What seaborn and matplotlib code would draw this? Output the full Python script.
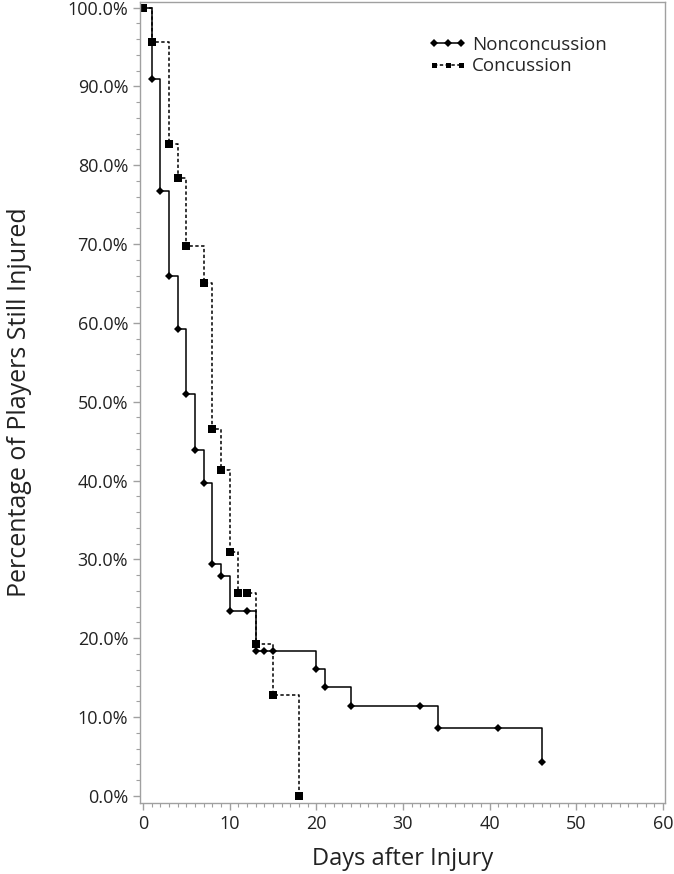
import matplotlib
matplotlib.use("Agg")
import matplotlib.pyplot as plt
import seaborn as sns
import pandas as pd
from matplotlib.ticker import MultipleLocator, FuncFormatter

# ---- data ----
non_days = [0, 1, 2, 3, 4, 5, 6, 7, 8, 9, 10, 12, 13, 14, 15, 20, 21, 24, 32, 34, 41, 46]
non_pct = [100.0, 90.9, 76.7, 66.0, 59.2, 51.0, 43.9, 39.7, 29.4, 27.9, 23.5, 23.5,
           18.4, 18.4, 18.4, 16.1, 13.8, 11.4, 11.4, 8.6, 8.6, 4.3]
con_days = [0, 1, 3, 4, 5, 7, 8, 9, 10, 11, 12, 13, 15, 18]
con_pct = [100.0, 95.6, 82.7, 78.4, 69.7, 65.0, 46.5, 41.3, 31.0, 25.8, 25.8, 19.3, 12.8, 0.0]
groups = ["Nonconcussion", "Concussion"]
x_ticks = [0, 10, 20, 30, 40, 50, 60]
y_ticks = [0, 10, 20, 30, 40, 50, 60, 70, 80, 90, 100]

df = pd.concat([
    pd.DataFrame({"day": non_days, "pct": non_pct, "group": groups[0]}),
    pd.DataFrame({"day": con_days, "pct": con_pct, "group": groups[1]}),
], ignore_index=True)

sns.set_theme(style="white")
plt.rcParams["font.family"] = ["Open Sans", "DejaVu Sans"]

fig = plt.figure(figsize=(6.74, 8.74), dpi=100)
ax = fig.add_axes([140 / 674, 1 - 803 / 874, 525 / 674, 801 / 874])

sns.lineplot(
    data=df, x="day", y="pct", hue="group", style="group",
    hue_order=groups, style_order=groups,
    palette={groups[0]: "black", groups[1]: "black"},
    markers={groups[0]: "D", groups[1]: "s"},
    dashes={groups[0]: "", groups[1]: (2.2, 1.6)},
    markersize=5, markeredgewidth=0, linewidth=1.1,
    drawstyle="steps-post", estimator=None, sort=False, ax=ax,
)
for ln in ax.lines:
    if ln.get_marker() == "D":
        ln.set_markersize(4.2)
    elif ln.get_marker() == "s":
        ln.set_markersize(5.2)

ax.set_xlim(-0.33, 60.25)
ax.set_ylim(-0.9, 100.7)
ax.set_xticks(x_ticks)
ax.set_yticks(y_ticks)
ax.xaxis.set_minor_locator(MultipleLocator(1))
ax.yaxis.set_minor_locator(MultipleLocator(2))
ax.yaxis.set_major_formatter(FuncFormatter(lambda v, p: f"{v:.1f}%"))

gray = "#a0a0a0"
for s in ax.spines.values():
    s.set_color(gray)
    s.set_linewidth(1.0)
ax.tick_params(which="both", direction="out", color=gray, labelsize=13, labelcolor="#222222")
ax.tick_params(which="major", length=5, width=1)
ax.tick_params(which="minor", length=3, width=0.8)
ax.tick_params(axis="both", which="both", bottom=True, left=True)

ax.set_xlabel("Days after Injury", fontsize=17, color="#222222", labelpad=10)
ax.set_ylabel("Percentage of Players Still Injured", fontsize=18, color="#222222")
ax.yaxis.set_label_coords(-0.205, 0.5)

handles, labels = ax.get_legend_handles_labels()
leg = ax.legend(handles, labels, loc="upper left", bbox_to_anchor=(0.55, 0.958),
                frameon=False, numpoints=3, handlelength=2.0, handletextpad=0.3,
                borderpad=0, borderaxespad=0, labelspacing=0.2, fontsize=13.5)
for h in leg.get_lines():
    h.set_markersize(3.6)

fig.savefig("out.png", dpi=100)
